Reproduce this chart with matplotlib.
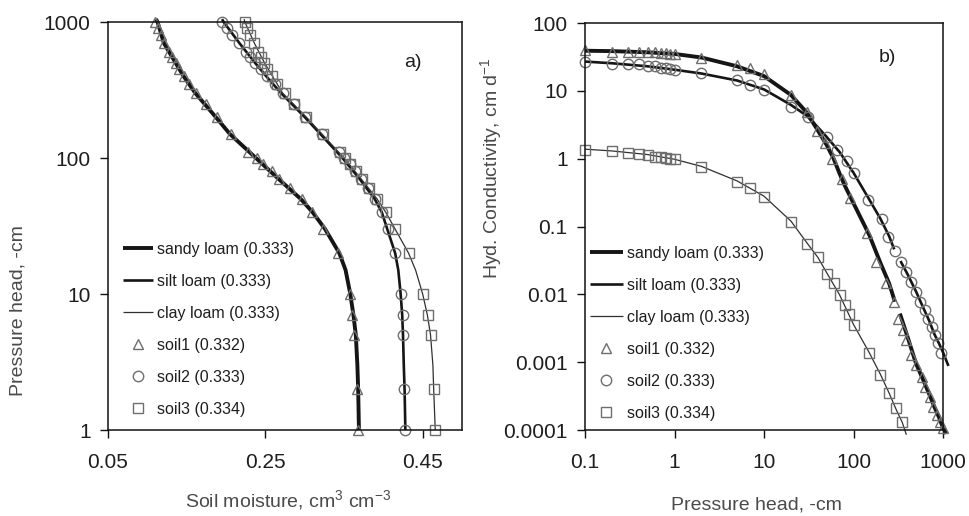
import matplotlib
matplotlib.use("Agg")
import matplotlib.pyplot as plt
import numpy as np
from matplotlib.ticker import NullLocator

plt.rcParams['font.family'] = ['Liberation Sans', 'DejaVu Sans']
plt.rcParams['mathtext.default'] = 'regular'

nan = np.nan

# ---------------- Panel a) : water retention ----------------
h_fit_a = [1, 2, 3, 5, 7, 10, 15, 20, 30, 40, 50, 70, 100, 150, 200, 300, 400, 500, 700, 1000, 1050]
theta_sandy = [0.369, 0.368, 0.367, 0.365, 0.362, 0.358, 0.352, 0.344, 0.326, 0.310, 0.295, 0.267, 0.238,
               0.205, 0.187, 0.161, 0.146, 0.136, 0.121, 0.113, 0.111]
theta_silt = [0.428, 0.427, 0.426, 0.425, 0.424, 0.422, 0.419, 0.415, 0.405, 0.398, 0.389, 0.370, 0.348,
              0.320, 0.300, 0.270, 0.251, 0.237, 0.217, 0.197, 0.195]
theta_clay = [0.466, 0.464, 0.463, 0.460, 0.456, 0.450, 0.441, 0.432, 0.415, 0.403, 0.392, 0.372, 0.350,
              0.322, 0.302, 0.272, 0.259, 0.249, 0.236, 0.224, 0.223]

h_obs_a = [1, 2, 5, 7, 10, 20, 30, 40, 50, 60, 70, 80, 90, 100, 110, 150, 200, 250, 300, 350, 400, 450,
           500, 550, 600, 700, 800, 900, 1000]
theta_soil1 = [0.368, 0.367, 0.363, 0.360, 0.357, 0.343, 0.323, 0.309, 0.296, 0.281, 0.268, 0.258, 0.247,
               0.239, 0.228, 0.206, 0.188, 0.174, 0.162, 0.153, 0.146, 0.140, 0.136, 0.131, 0.127, 0.121,
               0.117, 0.113, 0.110]
theta_soil2 = [0.427, 0.426, 0.425, 0.425, 0.422, 0.415, 0.406, 0.398, 0.390, 0.381, 0.372, 0.364, 0.357,
               0.350, 0.344, 0.322, 0.301, 0.286, 0.273, 0.262, 0.252, 0.244, 0.237, 0.231, 0.226, 0.216,
               0.208, 0.201, 0.195]
theta_soil3 = [0.466, 0.464, 0.460, 0.457, 0.451, 0.432, 0.415, 0.403, 0.392, 0.382, 0.373, 0.365, 0.358,
               0.351, 0.345, 0.323, 0.302, 0.287, 0.275, 0.265, 0.258, 0.252, 0.248, 0.244, 0.241, 0.236,
               0.231, 0.227, 0.224]

# ---------------- Panel b) : hydraulic conductivity ----------------
h_sandy_b = [0.1, 0.2, 0.5, 1, 2, 5, 10, 20, 30, 40, 50, 60, 70, 80, 100, 150, 200, 250, 290, nan,
             330, 400, 500, 600, 700, 800, 900, 1000, 1090]
K_sandy = [39, 38.5, 37, 35, 31, 23, 16.5, 8.7, 4.8, 2.6, 1.6, 1.0, 0.6, 0.4, 0.22, 0.075, 0.029, 0.0145,
           0.0078, nan, 0.0052, 0.0024, 0.00095, 0.00055, 0.00034, 0.00022, 0.000155, 0.000108, 0.000088]
h_silt_b = [0.1, 0.2, 0.5, 1, 2, 5, 10, 20, 30, 40, 50, 70, 100, 150, 200, 250, 285, nan,
            335, 400, 500, 600, 700, 800, 900, 1000, 1150]
K_silt = [27, 25.5, 23, 20.5, 18, 14.2, 10.5, 6.2, 4.3, 2.9, 2.1, 1.25, 0.62, 0.25, 0.13, 0.072, 0.046, nan,
          0.031, 0.020, 0.011, 0.0064, 0.0041, 0.0026, 0.0019, 0.0014, 0.00088]
h_clay_b = [0.1, 0.2, 0.5, 1, 2, 5, 10, 20, 30, 40, 50, 70, 100, 150, 200, 250, 300, 350, 390]
K_clay = [1.38, 1.3, 1.15, 0.98, 0.77, 0.47, 0.28, 0.12, 0.058, 0.035, 0.021, 0.0098, 0.0036, 0.00138,
          0.00066, 0.00035, 0.0002, 0.00013, 0.000085]

h_soil1_b = [0.1, 0.2, 0.3, 0.4, 0.5, 0.6, 0.7, 0.8, 0.9, 1, 2, 5, 7, 10, 20, 30, 39, 48, 57, 74, 91, 140,
             180, 230, 280, 318, 356, 390, 443, 505, 578, 626, 715, 780, 850, 915, 1000]
K_soil1 = [40, 38, 38, 38, 37.5, 37, 36.5, 36, 35.5, 35, 30, 24, 21.4, 18, 8.7, 4.8, 2.6, 1.68, 1.0, 0.51,
           0.26, 0.079, 0.030, 0.0145, 0.0077, 0.0044, 0.0030, 0.0021, 0.00127, 0.0009, 0.00061, 0.00043,
           0.00031, 0.00022, 0.000165, 0.000129, 0.000106]
h_soil2_b = [0.1, 0.2, 0.3, 0.4, 0.5, 0.6, 0.7, 0.8, 0.9, 1, 2, 5, 7, 10, 20, 31, 50, 65, 84, 100, 147, 206,
             245, 290, 340, 390, 443, 505, 550, 626, 685, 745, 810, 880, 960]
K_soil2 = [27, 25, 25, 24.5, 23.5, 23, 22, 21.5, 21, 20.3, 18.1, 14.4, 12.2, 10.3, 5.8, 4.15, 2.1, 1.34,
           0.93, 0.61, 0.245, 0.13, 0.071, 0.043, 0.030, 0.0215, 0.0152, 0.0109, 0.0077, 0.0058, 0.0044,
           0.0033, 0.0025, 0.0019, 0.00138]
h_soil3_b = [0.1, 0.2, 0.3, 0.4, 0.5, 0.6, 0.7, 0.8, 0.9, 1, 2, 5, 7, 10, 20, 30, 40, 50, 60, 70, 80, 90,
             100, 150, 200, 250, 300, 350]
K_soil3 = [1.34, 1.31, 1.23, 1.18, 1.13, 1.07, 1.05, 1.01, 0.99, 0.98, 0.76, 0.46, 0.37, 0.275, 0.117,
           0.056, 0.035, 0.020, 0.0145, 0.0098, 0.0070, 0.0052, 0.0035, 0.00138, 0.00065, 0.00035, 0.00021,
           0.00013]

series_labels = ['sandy loam (0.333)', 'silt loam (0.333)', 'clay loam (0.333)',
                 'soil1 (0.332)', 'soil2 (0.333)', 'soil3 (0.334)']

xticks_a = [0.05, 0.25, 0.45]
xticklabels_a = ['0.05', '0.25', '0.45']
yticks_a = [1, 10, 100, 1000]
yticklabels_a = ['1', '10', '100', '1000']
xticks_b = [0.1, 1, 10, 100, 1000]
xticklabels_b = ['0.1', '1', '10', '100', '1000']
yticks_b = [0.0001, 0.001, 0.01, 0.1, 1, 10, 100]
yticklabels_b = ['0.0001', '0.001', '0.01', '0.1', '1', '10', '100']

# ---------------- styles ----------------
W, H = 969, 516
line_styles = [dict(color='#151515', lw=2.8), dict(color='#151515', lw=1.9), dict(color='#303030', lw=0.9)]
mk_common = dict(linestyle='none', mfc='none', mec='#6e6e6e', mew=1.0, ms=7.5)
markers = ['^', 'o', 's']
tick_col = '#1e1e1e'
lab_col = '#4a4a4a'

fig = plt.figure(figsize=(W / 100, H / 100), dpi=100)
axA = fig.add_axes([108 / W, 1 - 430 / H, 354 / W, 408 / H])
axB = fig.add_axes([585 / W, 1 - 430 / H, 358 / W, 407 / H])

# panel a
hA = []
for th, st in zip([theta_sandy, theta_silt, theta_clay], line_styles):
    ln, = axA.plot(th, h_fit_a, clip_on=False, solid_capstyle='butt', **st)
    hA.append(ln)
for th, m in zip([theta_soil1, theta_soil2, theta_soil3], markers):
    ln, = axA.plot(th, h_obs_a, marker=m, clip_on=False, **mk_common)
    hA.append(ln)
axA.set_yscale('log')
axA.set_xlim(0.05, 0.5)
axA.set_ylim(1, 1000)
axA.set_xticks(xticks_a)
axA.set_xticklabels(xticklabels_a)
axA.set_yticks(yticks_a)
axA.set_yticklabels(yticklabels_a)

# panel b
hB = []
for hh, kk, st in zip([h_sandy_b, h_silt_b, h_clay_b], [K_sandy, K_silt, K_clay], line_styles):
    ln, = axB.plot(hh, kk, clip_on=False, solid_capstyle='butt', **st)
    hB.append(ln)
for hh, kk, m in zip([h_soil1_b, h_soil2_b, h_soil3_b], [K_soil1, K_soil2, K_soil3], markers):
    ln, = axB.plot(hh, kk, marker=m, clip_on=False, **mk_common)
    hB.append(ln)
axB.set_xscale('log')
axB.set_yscale('log')
axB.set_xlim(0.1, 1000)
axB.set_ylim(0.0001, 100)
axB.set_xticks(xticks_b)
axB.set_xticklabels(xticklabels_b)
axB.set_yticks(yticks_b)
axB.set_yticklabels(yticklabels_b)

for ax in (axA, axB):
    ax.xaxis.set_minor_locator(NullLocator())
    ax.yaxis.set_minor_locator(NullLocator())
    for s in ax.spines.values():
        s.set_linewidth(1.1)
        s.set_color('#111111')
    ax.tick_params(axis='both', direction='out', length=5.5, width=1.0, color='#111111',
                   labelsize=15, labelcolor=tick_col)
    ax.tick_params(axis='x', pad=11)
    ax.tick_params(axis='y', pad=7)

leg_kw = dict(frameon=False, loc='upper left', fontsize=11.5, labelspacing=1.06,
              handletextpad=0.25, borderpad=0, borderaxespad=0, labelcolor='#1e1e1e')
axA.legend(hA, series_labels, bbox_to_anchor=(0.042, 0.461), handlelength=1.88, **leg_kw)
axB.legend(hB, series_labels, bbox_to_anchor=(0.014, 0.452), handlelength=2.06, **leg_kw)

axA.text((413 - 108) / 354, (430 - 62) / 408, 'a)', transform=axA.transAxes, ha='center', va='center',
         fontsize=14, color=tick_col)
axB.text((887 - 585) / 358, (430 - 57) / 407, 'b)', transform=axB.transAxes, ha='center', va='center',
         fontsize=14, color=tick_col)

fig.text(18.5 / W, 1 - 311 / H, 'Pressure head, -cm', rotation=90, ha='center', va='center',
         fontsize=14, color=lab_col)
fig.text(288 / W, 1 - 500 / H, 'Soil moisture, cm$^{3}$ cm$^{-3}$', ha='center', va='center',
         fontsize=14, color=lab_col)
fig.text(491 / W, 1 - 168 / H, 'Hyd. Conductivity, cm d$^{-1}$', rotation=90, ha='center', va='center',
         fontsize=14, color=lab_col)
fig.text(756 / W, 1 - 505 / H, 'Pressure head, -cm', ha='center', va='center',
         fontsize=14, color=lab_col)

fig.savefig('out.png', dpi=100)
